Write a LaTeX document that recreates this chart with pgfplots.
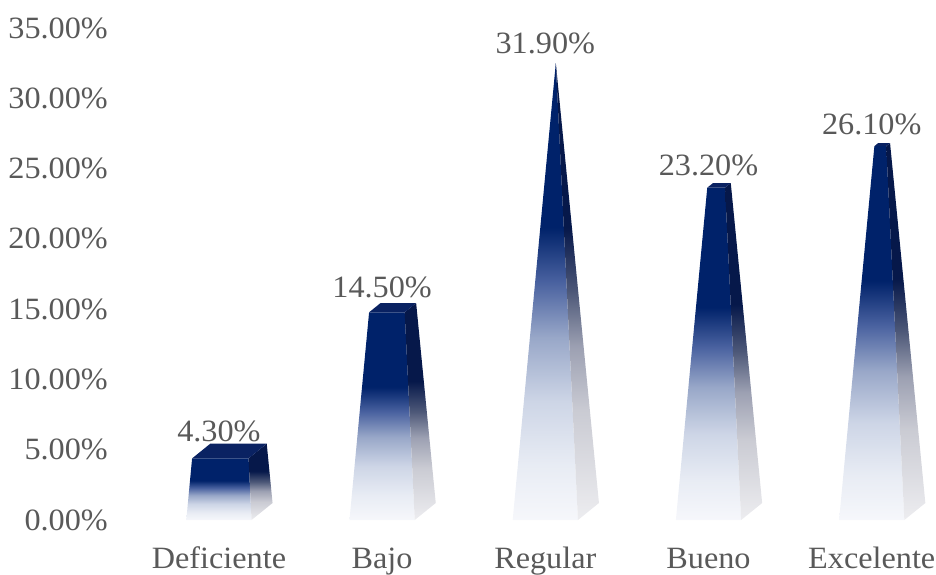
\documentclass[border=0pt]{standalone}
\usepackage{pgfplots}
\pgfplotsset{compat=1.18}
\usepackage{fontspec}
\setmainfont[FakeStretch=1.04]{Liberation Serif}

\definecolor{labelgray}{HTML}{595959}
\definecolor{navyF}{HTML}{00226A}
\definecolor{fA}{HTML}{4A62A0}
\definecolor{fB}{HTML}{98A7C8}
\definecolor{fC}{HTML}{CDD5E6}
\definecolor{fD}{HTML}{E8ECF4}
\definecolor{fE}{HTML}{F6F7FB}
\definecolor{navyS}{HTML}{06184A}
\definecolor{sA}{HTML}{4D5878}
\definecolor{sB}{HTML}{9CA0B2}
\definecolor{sC}{HTML}{CACBD3}
\definecolor{sE}{HTML}{EDEDF0}
\definecolor{navyT}{HTML}{0A2262}

\pgfdeclareverticalshading{frontshade}{100bp}{color(0bp)=(fE); color(25bp)=(fE); color(31bp)=(fD); color(38bp)=(fC); color(45bp)=(fB); color(51bp)=(fA); color(57bp)=(navyF); color(75bp)=(navyF); color(100bp)=(navyF)}
\pgfdeclareverticalshading{sideshade}{100bp}{color(0bp)=(sE); color(25bp)=(sE); color(37bp)=(sC); color(44bp)=(sB); color(50bp)=(sA); color(57bp)=(navyS); color(75bp)=(navyS); color(100bp)=(navyS)}

% pyramid geometry (axis units)
\def\hw{0.2}      % half width of the base
\def\ddx{0.1286}  % depth offset x
\def\ddy{1.209}   % depth offset y
\def\vmax{31.9}

\newcommand{\pyr}[2]{%
  \pgfmathsetmacro{\pk}{1-#2/\vmax}%
  \pgfmathsetmacro{\pf}{(1-\pk)/2}%
  \pgfmathsetmacro{\pb}{(1+\pk)/2}%
  \pgfmathsetmacro{\fbl}{#1-\hw}%
  \pgfmathsetmacro{\fbr}{#1+\hw}%
  \pgfmathsetmacro{\bbr}{#1+\hw+\ddx}%
  \pgfmathsetmacro{\ftl}{#1-\hw*\pk+\pf*\ddx}%
  \pgfmathsetmacro{\ftr}{#1+\hw*\pk+\pf*\ddx}%
  \pgfmathsetmacro{\btl}{#1-\hw*\pk+\pb*\ddx}%
  \pgfmathsetmacro{\btr}{#1+\hw*\pk+\pb*\ddx}%
  \pgfmathsetmacro{\fty}{#2+\pf*\ddy}%
  \pgfmathsetmacro{\bty}{#2+\pb*\ddy}%
  \edef\pyrcmd{%
    \noexpand\addplot[draw=none, mark=none, forget plot, shading=frontshade]
      coordinates {(\fbl,0) (\fbr,0) (\ftr,\fty) (\ftl,\fty)} -- cycle;
    \noexpand\addplot[draw=none, mark=none, forget plot, shading=sideshade]
      coordinates {(\fbr,0) (\bbr,\ddy) (\btr,\bty) (\ftr,\fty)} -- cycle;
    \noexpand\addplot[draw=none, mark=none, forget plot, fill=navyT]
      coordinates {(\ftl,\fty) (\ftr,\fty) (\btr,\bty) (\btl,\bty)} -- cycle;
  }\pyrcmd
}

\begin{document}
\begin{tikzpicture}
\useasboundingbox (0,0) rectangle (936pt,574pt);
\begin{axis}[
  at={(121pt,54pt)}, anchor=south west,
  scale only axis, width=816pt, height=492pt,
  xmin=-0.6, xmax=4.4, ymin=0, ymax=35,
  axis line style={draw=none}, major tick length=0pt, tick style={draw=none},
  xtick={0,1,2,3,4},
  xticklabels={Deficiente,Bajo,Regular,Bueno,Excelente},
  ytick={0,5,10,15,20,25,30,35},
  yticklabel={\pgfmathprintnumber[fixed,fixed zerofill,precision=2]{\tick}\%},
  /pgf/number format/assume math mode=true,
  ticklabel style={font=\fontsize{31}{37}\selectfont, text=labelgray, inner sep=0pt},
  yticklabel style={anchor=east, xshift=-13pt},
  xticklabel style={anchor=base, yshift=-48pt},
  clip=false,
]
\pyr{0}{4.3}
\pyr{1}{14.5}
\pyr{2}{31.9}
\pyr{3}{23.2}
\pyr{4}{26.1}
\addplot[draw=none, mark=none, nodes near coords, point meta=explicit symbolic,
  every node near coord/.style={anchor=base, yshift=18.5pt, inner sep=0pt,
    font=\fontsize{31}{37}\selectfont, text=labelgray}]
  coordinates {(0,4.3) [4.30\%] (1,14.5) [14.50\%] (2,31.9) [31.90\%] (3,23.2) [23.20\%] (4,26.1) [26.10\%]};
\end{axis}
\end{tikzpicture}
\end{document}
